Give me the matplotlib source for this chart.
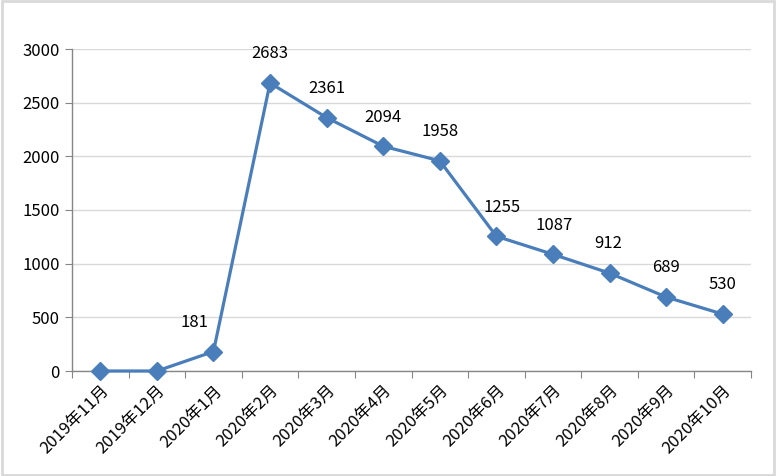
import numpy as np
import matplotlib
matplotlib.use('Agg')
import matplotlib.pyplot as plt
from matplotlib.patches import Rectangle

plt.rcParams['font.family'] = ['Noto Sans CJK SC', 'DejaVu Sans']

months = ['2019年11月', '2019年12月', '2020年1月', '2020年2月', '2020年3月', '2020年4月',
          '2020年5月', '2020年6月', '2020年7月', '2020年8月', '2020年9月', '2020年10月']
values = [0, 0, 181, 2683, 2361, 2094, 1958, 1255, 1087, 912, 689, 530]
show_label = [False, False, True, True, True, True, True, True, True, True, True, True]
# small horizontal nudges of the data labels (points)
label_dx = [0, 0, -14, 0, 0, 0, 0, 4, 1, -1, 0, 0]

line_color = '#4A7EBB'
grid_color = '#D9D9D9'
axis_color = '#868686'

fig = plt.figure(figsize=(7.76, 4.76), dpi=100)
ax = fig.add_axes([72 / 776, 1 - 371 / 476, (751 - 72) / 776, (371 - 49) / 476])

x = np.arange(len(months))
ax.plot(x, values, color=line_color, linewidth=2.3, marker='D', markersize=9,
        markerfacecolor=line_color, markeredgecolor=line_color, zorder=3, clip_on=False)

for i, v in enumerate(values):
    if show_label[i]:
        ax.annotate(str(v), (x[i], v), xytext=(label_dx[i], 21), textcoords='offset points',
                    ha='center', va='center', fontsize=12, color='black')

ax.set_xlim(-0.5, len(months) - 0.5)
ax.set_ylim(0, 3000)
ax.set_yticks(np.arange(0, 3001, 500))
ax.yaxis.grid(True, color=grid_color, linewidth=1)
ax.set_axisbelow(True)

# ticks at category boundaries, labels at centres
ax.set_xticks(np.arange(-0.5, len(months), 1))
ax.set_xticklabels([])
ax.set_xticks(x, minor=True)
ax.set_xticklabels(months, minor=True, rotation=45, ha='right', va='top',
                   rotation_mode='anchor', fontsize=12)
ax.tick_params(axis='x', which='major', length=5, color=axis_color, direction='out')
ax.tick_params(axis='x', which='minor', length=0, pad=8)
ax.tick_params(axis='y', length=5, color=axis_color, labelsize=12, pad=4)

for side in ['top', 'right']:
    ax.spines[side].set_visible(False)
for side in ['left', 'bottom']:
    ax.spines[side].set_color(axis_color)
    ax.spines[side].set_linewidth(1)

fig.patches.append(Rectangle((0.002, 0.003), 0.996, 0.994, transform=fig.transFigure,
                             fill=False, edgecolor=grid_color, linewidth=2))

fig.savefig('out.png', dpi=100)
